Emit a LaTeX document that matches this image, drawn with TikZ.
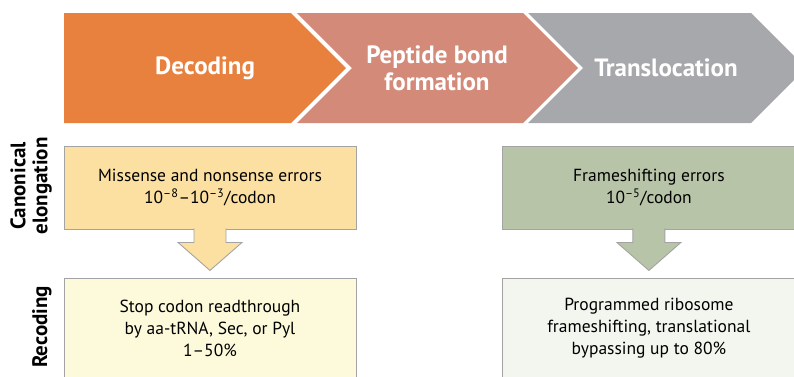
\documentclass[tikz,border=0pt]{standalone}
\usepackage{fontspec}
\setmainfont{PT Sans}
\usetikzlibrary{positioning}

\definecolor{decodeorange}{HTML}{E8803E}
\definecolor{peptidepink}{HTML}{D48A78}
\definecolor{translgray}{HTML}{A7A8AB}
\definecolor{missfill}{HTML}{FCE0A2}
\definecolor{stopfill}{HTML}{FDFADB}
\definecolor{framefill}{HTML}{B8C4A8}
\definecolor{progfill}{HTML}{F3F6EE}
\definecolor{boxline}{HTML}{A3A3A3}

\begin{document}
\begin{tikzpicture}[x=1pt, y=-1pt, node distance=49pt]
\tikzstyle{stage} = [inner sep=0pt, text=white, font=\fontsize{25}{27}\selectfont\bfseries, align=center]
\tikzstyle{errbox} = [rectangle, draw=boxline, line width=0.9pt, minimum width=292pt, minimum height=83pt, align=center, font=\fontsize{17.5}{22}\selectfont]
\tikzstyle{rowlabel} = [rotate=90, font=\fontsize{21}{22}\selectfont\bfseries, align=center]
\tikzstyle{blockarrow} = [draw=boxline, line width=0.9pt]

\useasboundingbox (0,0) rectangle (794,376);
\clip (0,0) rectangle (794,376);

% stages
\fill [decodeorange] (64,13) -- (291,13) -- (346,68) -- (291,123) -- (64,123) -- cycle;
\fill [peptidepink] (297,13) -- (523,13) -- (578,68) -- (523,123) -- (297,123) -- (352,68) -- cycle;
\fill [translgray] (528,13) -- (751,13) -- (806,68) -- (751,123) -- (528,123) -- (583,68) -- cycle;
\node (decoding) [stage] at (205,68) {Decoding};
\node (peptide) [stage] at (437,68) {Peptide bond\\formation};
\node (transloc) [stage] at (666,68) {Translocation};

% rows
\node (canonical) [rowlabel] at (31,186) {Canonical\\elongation};
\node (recoding) [rowlabel] at (42,327) {Recoding};

% error boxes
\node (miss) [errbox, fill=missfill] at (210,187.5) {Missense and nonsense errors\\10\textsuperscript{–8}–10\textsuperscript{–3}/codon};
\node (stop) [errbox, fill=stopfill, minimum height=99pt, below=of miss] {Stop codon readthrough\\by aa-tRNA, Sec, or Pyl\\1–50\%};
\node (frame) [errbox, fill=framefill, right=146pt of miss] {Frameshifting errors\\10\textsuperscript{–5}/codon};
\node (prog) [errbox, fill=progfill, minimum height=99pt, below=of frame] {Programmed ribosome\\frameshifting, translational\\bypassing up to 80\%};

% block arrows
\filldraw [blockarrow, fill=missfill] ([xshift=-16pt,yshift=1pt]miss.south) -- ++(0,14) -- ++(-16,0) -- ++(32,28) -- ++(32,-28) -- ++(-16,0) -- ++(0,-14);
\filldraw [blockarrow, fill=framefill] ([xshift=-16pt,yshift=1pt]frame.south) -- ++(0,14) -- ++(-16,0) -- ++(32,28) -- ++(32,-28) -- ++(-16,0) -- ++(0,-14);
\end{tikzpicture}
\end{document}
